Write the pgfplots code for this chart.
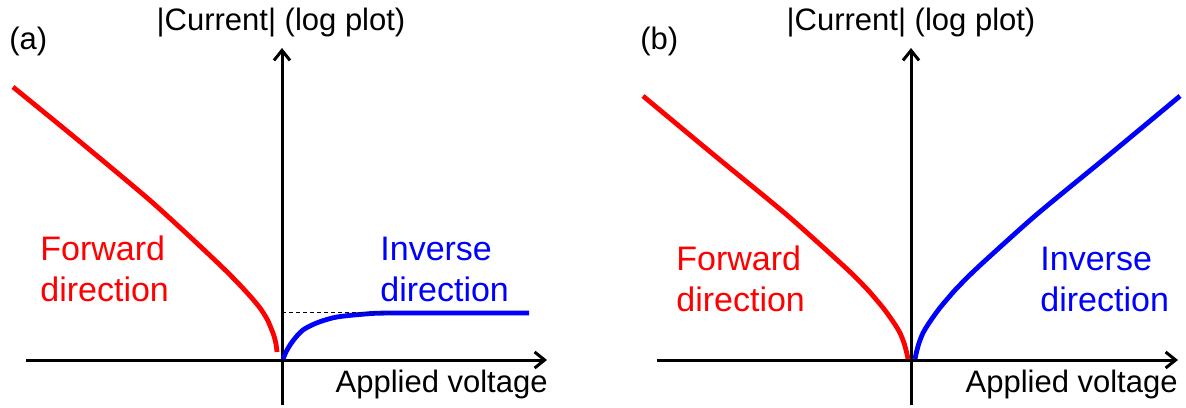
\documentclass[border=0pt]{standalone}
\usepackage{pgfplots}
\pgfplotsset{compat=1.18}
\usetikzlibrary{arrows.meta}
\usepackage{fontspec}
\setmainfont{Liberation Sans}

% Schematic I-V curves, one unit = 1 px at 0.5pt
\pgfplotsset{
  ivaxis/.style={
    x=0.5pt, y=0.5pt,
    axis lines=none,
    xtick=\empty, ytick=\empty,
    ymin=-45, ymax=312,
    clip=false,
    anchor=origin,
  },
  fwd/.style={red, line width=2.4pt, smooth, line cap=butt},
  inv/.style={blue, line width=2.4pt, smooth, line cap=butt},
}
\tikzset{
  axarrow/.style={line width=1.5pt, -{Straight Barb[length=5pt,width=8pt,line width=1.5pt]}},
  lbl/.style={inner sep=0pt, font=\fontsize{15.5pt}{18pt}\selectfont},
  clbl/.style={inner sep=0pt, anchor=base west, font=\fontsize{17pt}{20pt}\selectfont},
}

\begin{document}
\begin{tikzpicture}

% (a) saturating inverse current
\begin{axis}[ivaxis, xmin=-256, xmax=265, at={(141pt,23.5pt)}]
  \draw[axarrow] (axis cs:-256,0) -- (axis cs:265,0);
  \draw[axarrow] (axis cs:0,-45) -- (axis cs:0,312);
  \addplot[fwd] coordinates {
    (-269,273) (-215,229) (-162,185) (-129,157) (-95,126) (-62,95)
    (-45,78) (-32,64) (-22,52) (-15,41) (-11,32) (-8,24) (-6,16) (-5,8)
  };
  \addplot[inv] coordinates {
    (1,1) (4,8) (8,15) (14,23) (21,30) (30,35) (40,39) (55,43)
    (80,45.7) (110,47) (247,47)
  };
  \addplot[black, line width=0.5pt, dash pattern=on 2pt off 1.5pt] coordinates {(0,48) (110,48)};
  \node[lbl, anchor=base west] at (axis cs:-273,310) {(a)};
  \node[lbl, anchor=base] at (axis cs:-1,329) {|Current| (log plot)};
  \node[lbl, anchor=base east] at (axis cs:266,-32) {Applied voltage};
  \node[clbl, text=red] at (axis cs:-242,100) {Forward};
  \node[clbl, text=red] at (axis cs:-242,59) {direction};
  \node[clbl, text=blue] at (axis cs:98,100) {Inverse};
  \node[clbl, text=blue] at (axis cs:98,59) {direction};
\end{axis}

% (b) symmetric characteristic
\begin{axis}[ivaxis, xmin=-254, xmax=267, at={(455.5pt,23.5pt)}]
  \draw[axarrow] (axis cs:-254,0) -- (axis cs:267,0);
  \draw[axarrow] (axis cs:0,-45) -- (axis cs:0,312);
  \addplot[fwd] coordinates {
    (-268,264) (-197,205) (-130,150) (-97,121) (-63,90) (-45,72)
    (-37,63) (-27,51) (-17,37) (-11,27) (-7,17) (-4.5,8) (-3,1)
  };
  \addplot[inv] coordinates {
    (4,1) (5.5,8) (8,17) (12,27) (18,37) (28,51) (38,63) (46,72)
    (64,90) (98,121) (131,150) (198,205) (269,264)
  };
  \node[lbl, anchor=base west] at (axis cs:-271,310) {(b)};
  \node[lbl, anchor=base] at (axis cs:0,329) {|Current| (log plot)};
  \node[lbl, anchor=base east] at (axis cs:267,-32) {Applied voltage};
  \node[clbl, text=red] at (axis cs:-235,90) {Forward};
  \node[clbl, text=red] at (axis cs:-235,49) {direction};
  \node[clbl, text=blue] at (axis cs:129,90) {Inverse};
  \node[clbl, text=blue] at (axis cs:129,49) {direction};
\end{axis}

\pgfresetboundingbox
\path[use as bounding box] (0,0) rectangle (593pt,203.5pt);
\end{tikzpicture}
\end{document}
